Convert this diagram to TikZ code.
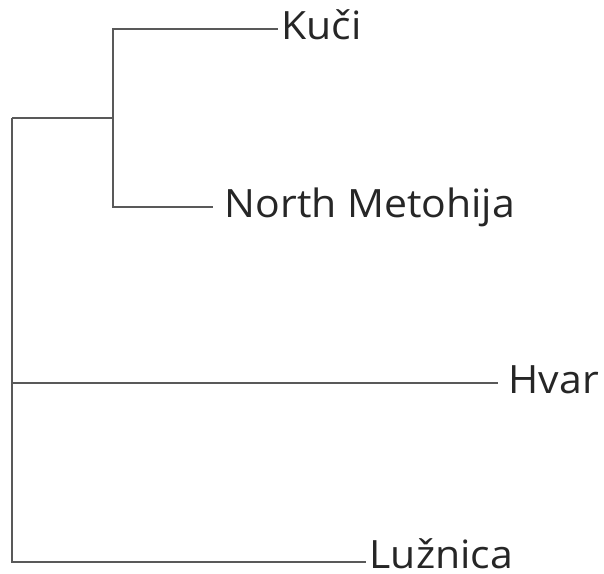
\documentclass[tikz,border=0pt]{standalone}
\usepackage{fontspec}
\setmainfont{Open Sans}[FakeStretch=1.05]
\begin{document}
\begin{tikzpicture}[x=1pt,y=1pt,
  edge/.style={draw=black!65,line width=1.3pt},
  leaf/.style={anchor=west,inner xsep=3.5pt,inner ysep=0pt,text height=21pt,text depth=0pt,font=\fontsize{39}{44}\selectfont,text=black!85}]
\useasboundingbox (0,0) rectangle (604,-573);
\coordinate (r) at (12,-118);
\coordinate (i) at (113,-118);
\node[leaf] (kuci) at (278,-29) {Kuči};
\node[leaf,inner xsep=11.5pt] (nm) at (213,-207) {North Metohija};
\node[leaf,inner xsep=10.5pt] (hvar) at (498,-383) {Hvar};
\node[leaf,text height=12pt] (luz) at (366,-562) {Lužnica};
\draw[edge] (r) -- (i);
\draw[edge] (i) |- (kuci.west);
\draw[edge] (i) |- (nm.west);
\draw[edge] (r) |- (hvar.west);
\draw[edge] (r) |- (luz.west);
\end{tikzpicture}
\end{document}
